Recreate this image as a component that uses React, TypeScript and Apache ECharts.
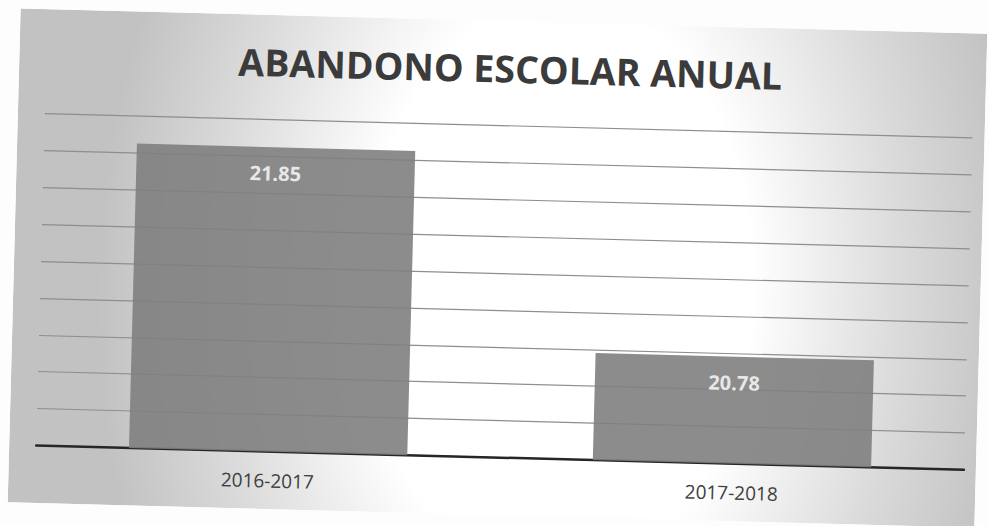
import React, { useEffect, useRef } from "react";
import * as echarts from "echarts";

const chartTitle = "ABANDONO ESCOLAR ANUAL";
const categories = ["2016-2017", "2017-2018"];
const values = [21.85, 20.78];
const axisMin = 20.2;
const axisMax = 22.0;
const axisStep = 0.2;

const PANEL_W = 967;
const PANEL_H = 494;
const GLOW_SY = 1.5;

export default function App() {
  const ref = useRef<HTMLDivElement>(null);

  useEffect(() => {
    if (!ref.current) return;
    const chart = echarts.init(ref.current, undefined, { renderer: "svg" });
    chart.setOption({
      animation: false,
      graphic: [
        {
          type: "rect",
          z: -10,
          silent: true,
          scaleY: GLOW_SY,
          shape: { x: 0, y: 0, width: PANEL_W, height: PANEL_H / GLOW_SY },
          style: {
            fill: new echarts.graphic.RadialGradient(
              545,
              265 / GLOW_SY,
              460,
              [
                { offset: 0, color: "#ffffff" },
                { offset: 0.42, color: "#ffffff" },
                { offset: 0.75, color: "#dadada" },
                { offset: 1, color: "#c2c2c2" },
              ],
              true
            ),
          },
        },
        {
          type: "text",
          x: 491,
          y: 47,
          z: 10,
          style: {
            text: chartTitle,
            fill: "#3b3b3b",
            font: 'bold 37.5px "Open Sans"',
            textAlign: "center",
            textVerticalAlign: "middle",
          },
        },
      ],
      grid: { left: 27, right: 12, top: 104.4, bottom: 57.5 },
      xAxis: {
        type: "category",
        data: categories,
        axisLine: { lineStyle: { color: "#262626", width: 2.5 } },
        axisTick: { show: false },
        axisLabel: {
          color: "#404040",
          fontFamily: "Open Sans",
          fontSize: 19,
          margin: 29,
          verticalAlign: "middle",
        },
      },
      yAxis: {
        type: "value",
        min: axisMin,
        max: axisMax,
        interval: axisStep,
        axisLabel: { show: false },
        axisLine: { show: false },
        axisTick: { show: false },
        splitLine: { lineStyle: { color: "#8e8e8e", width: 1.2 } },
      },
      series: [
        {
          type: "bar",
          data: values,
          barWidth: "60%",
          itemStyle: { color: "#7f7f7f", opacity: 0.9 },
          label: {
            show: true,
            position: ["50%", 26],
            align: "center",
            verticalAlign: "middle",
            color: "#f5f5f5",
            fontFamily: "Open Sans",
            fontWeight: "bold",
            fontSize: 20,
          },
        },
      ],
    });
    return () => chart.dispose();
  }, []);

  return (
    <div
      style={{
        position: "absolute",
        left: 0,
        top: 0,
        width: 989,
        height: 526,
        background: "#fdfdfd",
        overflow: "hidden",
      }}
    >
      <div
        ref={ref}
        style={{
          position: "absolute",
          left: 13.5,
          top: 21,
          width: PANEL_W,
          height: PANEL_H,
          transform: "rotate(1.5deg)",
        }}
      />
    </div>
  );
}
